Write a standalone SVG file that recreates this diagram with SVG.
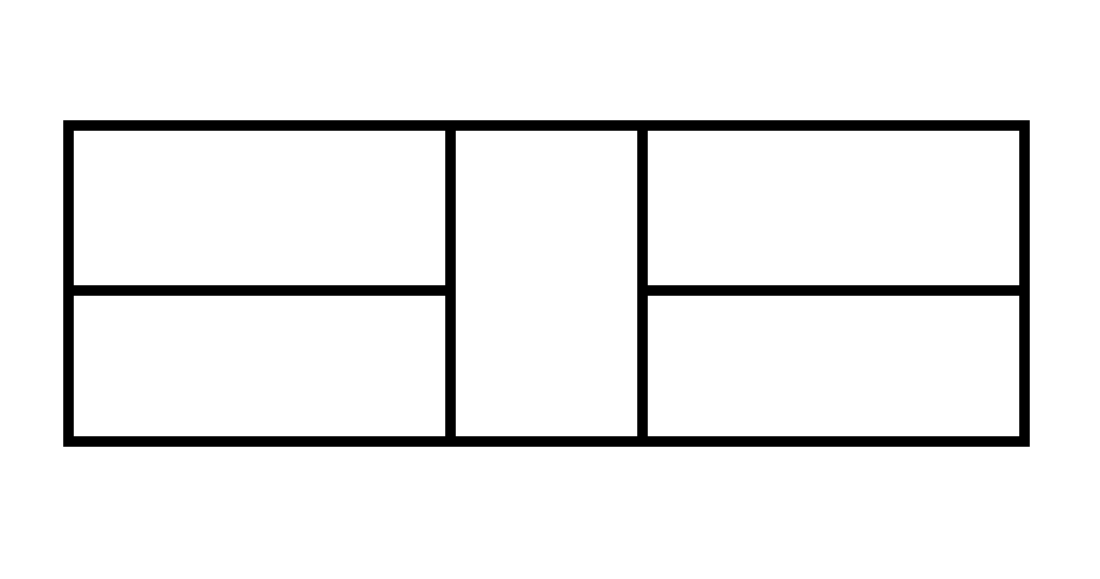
<svg xmlns="http://www.w3.org/2000/svg" width="1100" height="579" viewBox="0 0 1100 579">
<style>.s{fill:none;stroke:#000;stroke-width:10.5}</style>
<rect width="1100" height="579" fill="#fff"/>
<g id="frame">
<rect class="s" x="68.5" y="125.5" width="956" height="316"/>
<line class="s" x1="450.5" y1="125.5" x2="450.5" y2="441.5"/>
<line class="s" x1="642.5" y1="125.5" x2="642.5" y2="441.5"/>
<line class="s" x1="68.5" y1="290.5" x2="450.5" y2="290.5"/>
<line class="s" x1="642.5" y1="290.5" x2="1024.5" y2="290.5"/>
</g>
</svg>
